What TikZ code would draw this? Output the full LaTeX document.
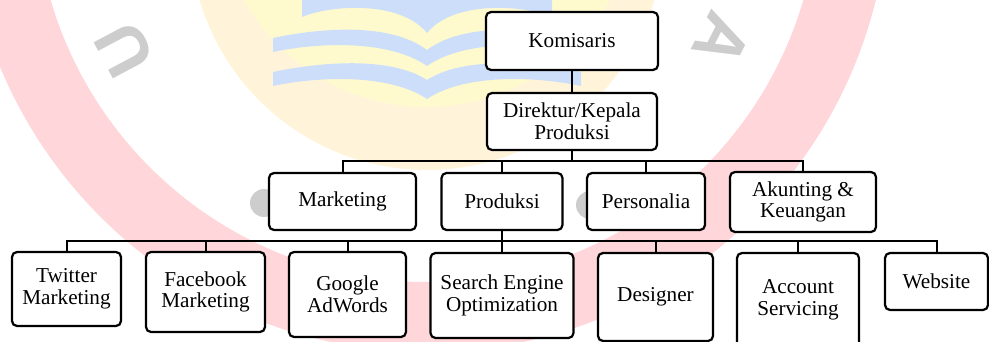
\documentclass[tikz,border=0pt]{standalone}
\usepackage{fontspec}
\setmainfont{Liberation Serif}
\newfontfamily\wmfont{Liberation Sans}
\definecolor{wmred}{RGB}{255,214,217}
\definecolor{wmcream}{RGB}{255,244,218}
\definecolor{wmyellow}{RGB}{255,250,205}
\definecolor{wmblue}{RGB}{205,222,250}
\definecolor{wmgray}{RGB}{205,205,205}
\begin{document}
\begin{tikzpicture}[x=1pt,y=-1pt,
  box/.style={draw=black, line width=2.2pt, rounded corners=5pt, fill=white,
    align=center, inner sep=0pt, font=\fontsize{21.2}{21.8}\selectfont},
  link/.style={draw=black, line width=2pt},
  wmletter/.style={text=wmgray, font=\wmfont\bfseries\fontsize{68}{68}\selectfont, inner sep=0pt}]
\useasboundingbox (0,0) rectangle (989,342);
% faint watermark
\begin{scope}
\clip (0,0) rectangle (989,342);
\fill[wmred, even odd rule] (427,-110) circle[radius=462] (427,-110) circle[radius=392];
\fill[wmcream] (427,-67) circle[radius=237];
\fill[wmyellow] (427,-103) circle[radius=210];
\fill[wmblue] (302,-5) -- (302,17) .. controls (330,5) and (400,0) .. (427,33)
  .. controls (454,0) and (524,5) .. (552,17) -- (552,-5) -- cycle;
\fill[wmblue] (273,38) .. controls (320,28) and (390,22) .. (427,50)
  .. controls (464,22) and (534,28) .. (581,38) -- (581,52)
  .. controls (534,42) and (464,40) .. (427,66)
  .. controls (390,40) and (320,42) .. (273,52) -- cycle;
\fill[wmblue] (273,72) .. controls (320,62) and (390,56) .. (427,80)
  .. controls (464,56) and (534,62) .. (581,72) -- (581,86)
  .. controls (534,76) and (464,74) .. (427,99)
  .. controls (390,74) and (320,76) .. (273,86) -- cycle;
\fill[wmgray] (264,203) circle[radius=14];
\fill[wmgray] (590,205) circle[radius=14];
\node[wmletter, rotate=118] at (125,50) {U};
\node[wmletter, rotate=-117] at (722,40) {A};
\end{scope}
% chart
\node[box, minimum width=172pt, minimum height=58pt] (kom) at (572,41) {Komisaris};
\node[box, minimum width=170pt, minimum height=57pt] (dir) at (572,121.5) {Direktur/Kepala\\Produksi};
\node[box, minimum width=147pt, minimum height=57pt] (mkt) at (342.5,201.5) {Marketing};
\node[box, minimum width=121pt, minimum height=57pt] (prod) at (502,201.5) {Produksi};
\node[box, minimum width=118pt, minimum height=57pt] (pers) at (646,201.5) {Personalia};
\node[box, minimum width=146pt, minimum height=60pt] (ak) at (803,202) {Akunting \&\\Keuangan};
\node[box, minimum width=109pt, minimum height=74pt] (tw) at (66.5,289) {Twitter\\Marketing};
\node[box, minimum width=119pt, minimum height=80pt] (fb) at (205.5,292) {Facebook\\Marketing};
\node[box, minimum width=117pt, minimum height=85pt] (ggl) at (347.5,294.5) {Google\\AdWords};
\node[box, minimum width=143pt, minimum height=85pt] (seo) at (502,295.5) {Search Engine\\Optimization};
\node[box, minimum width=115pt, minimum height=88pt] (des) at (655.5,297) {Designer};
\node[box, minimum width=122pt, minimum height=94pt] (acc) at (798,300) {Account\\Servicing};
\node[box, minimum width=103pt, minimum height=57pt] (web) at (936.5,281.5) {Website};
\coordinate (bus1) at (572,161);
\coordinate (bus2) at (502,241);
\draw[link] (kom) -- (dir);
\draw[link] (dir) -- (bus1);
\draw[link] (mkt.north) -- (mkt.north |- bus1) -- (ak.north |- bus1) -- (ak.north);
\draw[link] (prod.north) -- (prod.north |- bus1);
\draw[link] (pers.north) -- (pers.north |- bus1);
\draw[link] (prod) -- (seo);
\draw[link] (tw.north) -- (tw.north |- bus2) -- (web.north |- bus2) -- (web.north);
\draw[link] (fb.north) -- (fb.north |- bus2);
\draw[link] (ggl.north) -- (ggl.north |- bus2);
\draw[link] (des.north) -- (des.north |- bus2);
\draw[link] (acc.north) -- (acc.north |- bus2);
\end{tikzpicture}
\end{document}
